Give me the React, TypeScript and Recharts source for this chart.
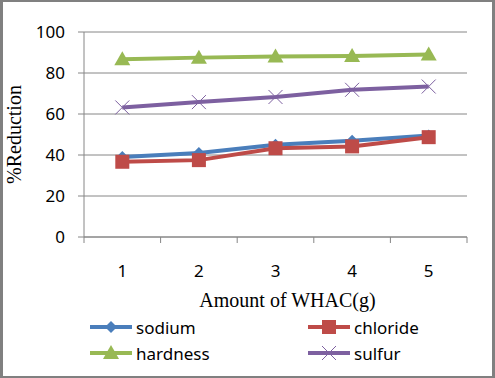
import React from 'react';
import { LineChart, Line, XAxis, YAxis, CartesianGrid, Label } from 'recharts';

const amounts = [1, 2, 3, 4, 5];
const sodium = [39, 41, 45, 47, 49.5];
const chloride = [36.7, 37.5, 43.3, 44.2, 48.7];
const hardness = [86.7, 87.5, 88, 88.3, 89];
const sulfur = [63.2, 65.8, 68.3, 71.8, 73.4];
const yTicks = [0, 20, 40, 60, 80, 100];

const GRID = '#868686';
const SANS = '"Noto Sans", "Open Sans", sans-serif';
const SERIF = '"Liberation Serif", "Times New Roman", serif';

const data = amounts.map((a, i) => ({
  amount: a,
  sodium: sodium[i],
  chloride: chloride[i],
  hardness: hardness[i],
  sulfur: sulfur[i],
}));

// labels at the category centres, tick marks at the boundaries between them
const xTicks = [amounts[0] - 0.5, ...amounts.flatMap((a) => [a, a + 0.5])];

type Shape = 'diamond' | 'square' | 'triangle' | 'cross';

const series: { key: string; name: string; color: string; shape: Shape }[] = [
  { key: 'sodium', name: 'sodium', color: '#4a7ebb', shape: 'diamond' },
  { key: 'chloride', name: 'chloride', color: '#be4b48', shape: 'square' },
  { key: 'hardness', name: 'hardness', color: '#98b954', shape: 'triangle' },
  { key: 'sulfur', name: 'sulfur', color: '#7d60a0', shape: 'cross' },
];

const Marker = ({ cx, cy, shape, color }: { cx: number; cy: number; shape: Shape; color: string }) => {
  if (shape === 'diamond') {
    return <path d={`M${cx},${cy - 6}L${cx + 6},${cy}L${cx},${cy + 6}L${cx - 6},${cy}Z`} fill={color} />;
  }
  if (shape === 'square') {
    return <rect x={cx - 7} y={cy - 7} width={14} height={14} fill={color} />;
  }
  if (shape === 'triangle') {
    return <path d={`M${cx},${cy - 8}L${cx + 8},${cy + 6}L${cx - 8},${cy + 6}Z`} fill={color} />;
  }
  return (
    <path
      d={`M${cx - 7},${cy - 7}L${cx + 7},${cy + 7}M${cx + 7},${cy - 7}L${cx - 7},${cy + 7}`}
      stroke={color}
      strokeWidth={1}
      fill="none"
    />
  );
};

const XTick = (props: any) => {
  const { x, y, payload } = props;
  if (Number.isInteger(payload.value)) {
    return (
      <text x={x} y={y + 33} textAnchor="middle" dominantBaseline="central" fontFamily={SANS} fontSize={17} fill="#000">
        {payload.value}
      </text>
    );
  }
  return <line x1={x} x2={x} y1={y} y2={y + 6} stroke={GRID} />;
};

const legendPos = [
  { left: 90, top: 327 },
  { left: 308, top: 327 },
  { left: 90, top: 353 },
  { left: 308, top: 353 },
];

export default function App() {
  return (
    <div style={{ position: 'absolute', left: 0, top: 0, width: 495, height: 378, background: '#fff' }}>
      <LineChart width={495} height={378} data={data} margin={{ top: 32, right: 28, bottom: 0, left: 0 }}>
        <CartesianGrid vertical={false} stroke={GRID} />
        <XAxis
          dataKey="amount"
          type="number"
          domain={[0.5, 5.5]}
          ticks={xTicks}
          interval={0}
          height={141}
          tickSize={0}
          tickMargin={0}
          tickLine={false}
          axisLine={{ stroke: GRID }}
          tick={<XTick />}
        >
          <Label
            content={({ viewBox }: any) => (
              <text
                x={viewBox.x + viewBox.width / 2 + 12}
                y={viewBox.y + 63}
                textAnchor="middle"
                dominantBaseline="central"
                fontFamily={SERIF}
                fontSize={20}
                fill="#000"
              >
                Amount of WHAC(g)
              </text>
            )}
          />
        </XAxis>
        <YAxis
          width={84}
          domain={[0, 100]}
          ticks={yTicks}
          tickSize={6}
          tickMargin={13}
          axisLine={{ stroke: GRID }}
          tickLine={{ stroke: GRID }}
          tick={{ fontFamily: SANS, fontSize: 17, fill: '#000' }}
        >
          <Label
            content={({ viewBox }: any) => {
              const cy = viewBox.y + viewBox.height / 2;
              return (
                <text
                  x={14}
                  y={cy}
                  transform={`rotate(-90, 14, ${cy})`}
                  textAnchor="middle"
                  dominantBaseline="central"
                  fontFamily={SERIF}
                  fontSize={20}
                  fill="#000"
                >
                  %Reduction
                </text>
              );
            }}
          />
        </YAxis>
        {series.map((s) => (
          <Line
            key={s.key}
            dataKey={s.key}
            name={s.name}
            stroke={s.color}
            strokeWidth={4}
            isAnimationActive={false}
            dot={(p: any) => <Marker key={`${s.key}-${p.index}`} cx={p.cx} cy={p.cy} shape={s.shape} color={s.color} />}
            activeDot={false}
          />
        ))}
      </LineChart>

      {series.map((s, i) => (
        <div
          key={s.key}
          style={{
            position: 'absolute',
            left: legendPos[i].left,
            top: legendPos[i].top - 12,
            height: 24,
            display: 'flex',
            alignItems: 'center',
            fontFamily: SANS,
            fontSize: 17,
            color: '#000',
          }}
        >
          <svg width={44} height={24}>
            <line x1={0} x2={42} y1={12} y2={12} stroke={s.color} strokeWidth={4} />
            <Marker cx={21} cy={12} shape={s.shape} color={s.color} />
          </svg>
          <span style={{ marginLeft: 2 }}>{s.name}</span>
        </div>
      ))}

      <div
        style={{
          position: 'absolute',
          left: 0,
          top: 0,
          width: 495,
          height: 378,
          boxSizing: 'border-box',
          borderStyle: 'solid',
          borderColor: '#808080',
          borderWidth: '2px 3px 2px 3px',
          pointerEvents: 'none',
        }}
      />
    </div>
  );
}
